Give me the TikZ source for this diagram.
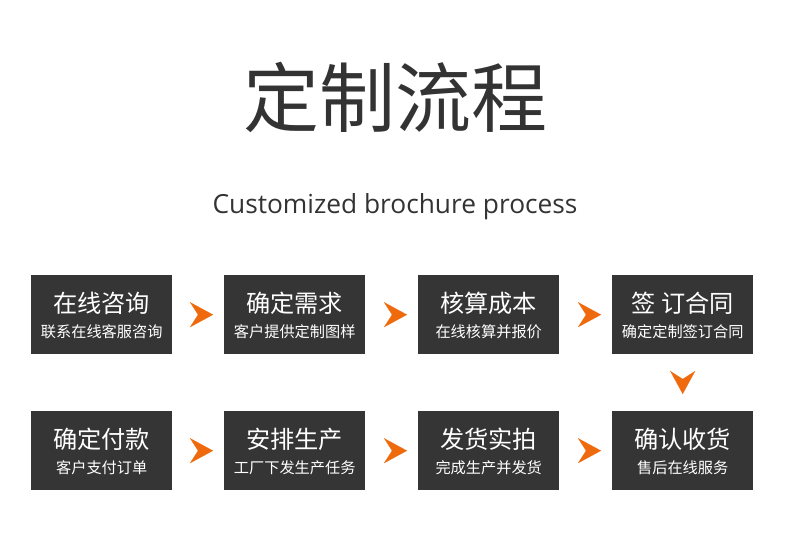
\documentclass[tikz,border=0pt]{standalone}
\usepackage{fontspec}
\setmainfont{Open Sans}
\newfontfamily\cjk{Noto Sans CJK SC}
\usetikzlibrary{arrows.meta}
\definecolor{boxgray}{HTML}{353535}
\definecolor{txtgray}{HTML}{333333}
\definecolor{arroworange}{HTML}{EE6A0C}
\tikzset{
  stepbox/.style={fill=boxgray, draw=none, minimum width=141pt, minimum height=79pt, inner sep=0pt, anchor=north west},
  boxtitle/.style={text=white, font=\cjk\fontsize{24.2}{24.2}\selectfont, inner sep=0pt},
  boxsub/.style={text=white, font=\cjk\fontsize{15.2}{15.2}\selectfont, inner sep=0pt},
  flowarrow/.style={draw=arroworange, fill=arroworange, line width=0.1pt, shorten <=10pt, -{Stealth[length=23pt,width=25pt,inset=8pt]}}
}
\begin{document}
\begin{tikzpicture}[x=1pt,y=-1pt]
\useasboundingbox[fill=white] (0,0) rectangle (790,557);
\node[text=txtgray, font=\cjk\fontsize{76}{76}\selectfont, inner sep=0pt] (title) at (395,97) {定制流程};
\node[text=txtgray, font=\fontsize{26.3}{26.3}\selectfont, inner sep=0pt, anchor=base] (sub) at (395,213) {Customized brochure process};
% row 1
\node[stepbox] (a1) at (31,275) {};
\node[stepbox] (a2) at (224,275) {};
\node[stepbox] (a3) at (418,275) {};
\node[stepbox] (a4) at (612,275) {};
% row 2
\node[stepbox] (b1) at (31,411) {};
\node[stepbox] (b2) at (224,411) {};
\node[stepbox] (b3) at (418,411) {};
\node[stepbox] (b4) at (612,411) {};
% texts
\node[boxtitle] (a1t) at ([yshift=11pt]a1.center) {在线咨询};
\node[boxsub] (a1s) at ([yshift=-17pt]a1.center) {联系在线客服咨询};
\node[boxtitle] (a2t) at ([yshift=11pt]a2.center) {确定需求};
\node[boxsub] (a2s) at ([yshift=-17pt]a2.center) {客户提供定制图样};
\node[boxtitle] (a3t) at ([yshift=11pt]a3.center) {核算成本};
\node[boxsub] (a3s) at ([yshift=-17pt]a3.center) {在线核算并报价};
\node[boxtitle] (a4t) at ([yshift=11pt]a4.center) {签 订合同};
\node[boxsub] (a4s) at ([yshift=-17pt]a4.center) {确定定制签订合同};
\node[boxtitle] (b1t) at ([yshift=11pt]b1.center) {确定付款};
\node[boxsub] (b1s) at ([yshift=-17pt]b1.center) {客户支付订单};
\node[boxtitle] (b2t) at ([yshift=11pt]b2.center) {安排生产};
\node[boxsub] (b2s) at ([yshift=-17pt]b2.center) {工厂下发生产任务};
\node[boxtitle] (b3t) at ([yshift=11pt]b3.center) {发货实拍};
\node[boxsub] (b3s) at ([yshift=-17pt]b3.center) {完成生产并发货};
\node[boxtitle] (b4t) at ([yshift=11pt]b4.center) {确认收货};
\node[boxsub] (b4s) at ([yshift=-17pt]b4.center) {售后在线服务};
% arrows
\draw[flowarrow] ([xshift=18pt]a1.east) -- ([xshift=-11pt]a2.west);
\draw[flowarrow] ([xshift=18pt]a2.east) -- ([xshift=-11pt]a3.west);
\draw[flowarrow] ([xshift=18pt]a3.east) -- ([xshift=-11pt]a4.west);
\draw[flowarrow] ([yshift=-17pt]a4.south) -- ([yshift=17pt]b4.north);
\draw[flowarrow] ([xshift=18pt]b1.east) -- ([xshift=-11pt]b2.west);
\draw[flowarrow] ([xshift=18pt]b2.east) -- ([xshift=-11pt]b3.west);
\draw[flowarrow] ([xshift=18pt]b3.east) -- ([xshift=-11pt]b4.west);
\end{tikzpicture}
\end{document}
